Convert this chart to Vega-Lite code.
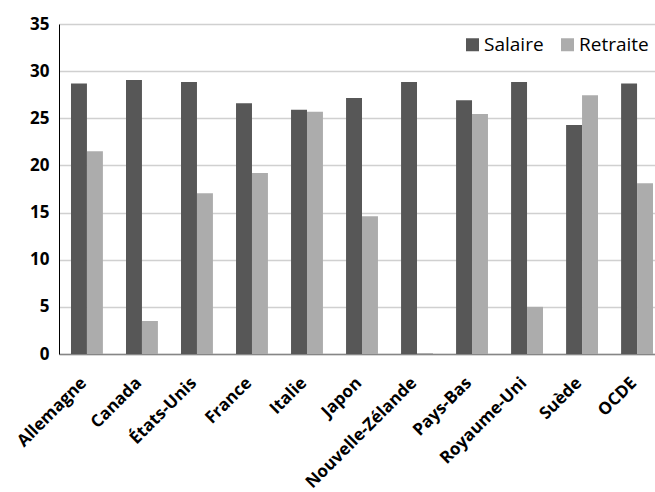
{
  "$schema": "https://vega.github.io/schema/vega-lite/v6.json",
  "autosize": "none",
  "width": 596,
  "height": 330,
  "padding": {"left": 59, "top": 24, "right": 0, "bottom": 138},
  "background": "white",
  "config": {"view": {"stroke": null}, "font": "Open Sans"},
  "data": {"values": [
    {"pays": "Allemagne", "serie": "Salaire", "valeur": 28.7},
    {"pays": "Allemagne", "serie": "Retraite", "valeur": 21.5},
    {"pays": "Canada", "serie": "Salaire", "valeur": 29.05},
    {"pays": "Canada", "serie": "Retraite", "valeur": 3.5},
    {"pays": "États-Unis", "serie": "Salaire", "valeur": 28.85},
    {"pays": "États-Unis", "serie": "Retraite", "valeur": 17.05},
    {"pays": "France", "serie": "Salaire", "valeur": 26.6},
    {"pays": "France", "serie": "Retraite", "valeur": 19.2},
    {"pays": "Italie", "serie": "Salaire", "valeur": 25.9},
    {"pays": "Italie", "serie": "Retraite", "valeur": 25.7},
    {"pays": "Japon", "serie": "Salaire", "valeur": 27.15},
    {"pays": "Japon", "serie": "Retraite", "valeur": 14.6},
    {"pays": "Nouvelle-Zélande", "serie": "Salaire", "valeur": 28.85},
    {"pays": "Nouvelle-Zélande", "serie": "Retraite", "valeur": 0.1},
    {"pays": "Pays-Bas", "serie": "Salaire", "valeur": 26.9},
    {"pays": "Pays-Bas", "serie": "Retraite", "valeur": 25.45},
    {"pays": "Royaume-Uni", "serie": "Salaire", "valeur": 28.85},
    {"pays": "Royaume-Uni", "serie": "Retraite", "valeur": 5.0},
    {"pays": "Suède", "serie": "Salaire", "valeur": 24.3},
    {"pays": "Suède", "serie": "Retraite", "valeur": 27.45},
    {"pays": "OCDE", "serie": "Salaire", "valeur": 28.7},
    {"pays": "OCDE", "serie": "Retraite", "valeur": 18.1}
  ]},
  "mark": {"type": "bar"},
  "encoding": {
    "x": {
      "field": "pays", "type": "nominal", "sort": null, "title": null,
      "scale": {"paddingInner": 0.42, "paddingOuter": 0.218, "range": [0, 606]},
      "axis": {
        "labelAngle": -45, "labelAlign": "right", "labelBaseline": "middle",
        "labelFont": "Open Sans", "labelFontWeight": "bold", "labelFontSize": 17,
        "labelColor": "#000000", "labelOffset": -3, "labelPadding": 26,
        "ticks": false, "domainColor": "#868686", "domainWidth": 1.5, "grid": false
      }
    },
    "xOffset": {"field": "serie", "type": "nominal", "sort": ["Salaire", "Retraite"]},
    "y": {
      "field": "valeur", "type": "quantitative", "title": null,
      "scale": {"domain": [0, 35], "nice": false},
      "axis": {
        "values": [0, 5, 10, 15, 20, 25, 30, 35],
        "labelFont": "Open Sans", "labelFontWeight": "bold", "labelFontSize": 17,
        "labelColor": "#000000", "labelPadding": 10,
        "ticks": false, "domainColor": "#000000", "domainWidth": 1,
        "gridColor": "#d0d0d0", "gridWidth": 1.5
      }
    },
    "color": {
      "field": "serie", "type": "nominal",
      "scale": {"domain": ["Salaire", "Retraite"], "range": ["#575757", "#acacac"]},
      "legend": {
        "title": null, "orient": "none", "direction": "horizontal",
        "legendX": 404, "legendY": 11,
        "symbolType": "square", "symbolSize": 169, "symbolStrokeWidth": 0,
        "symbolOpacity": 1,
        "labelFont": "Open Sans", "labelFontSize": 19, "labelColor": "#000000",
        "labelOffset": 2, "columnPadding": 14
      }
    }
  }
}
